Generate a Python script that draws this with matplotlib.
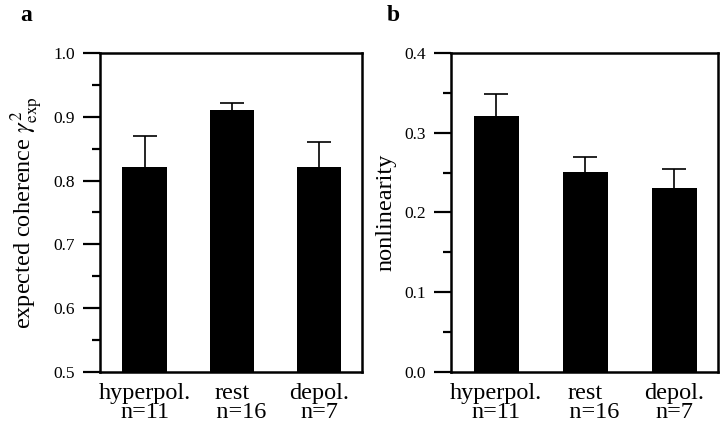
import matplotlib
matplotlib.use("Agg")
import matplotlib.pyplot as plt
from matplotlib.ticker import MultipleLocator

plt.rcParams['font.family'] = ['Liberation Serif', 'DejaVu Serif']
plt.rcParams['mathtext.fontset'] = 'stix'

# data
conditions = ["hyperpol.", "rest", "depol."]
n_cells = [11, 16, 7]
coherence = [0.821, 0.911, 0.821]
coherence_err = [0.049, 0.010, 0.040]
nonlinearity = [0.321, 0.251, 0.231]
nonlinearity_err = [0.028, 0.018, 0.023]

# second line of "rest" sits a little to the right in the original
n_pad = ["", "   ", ""]
labels = [f"{c}\n{p}n={n}" for c, p, n in zip(conditions, n_pad, n_cells)]

fig = plt.figure(figsize=(7.2, 4.33), dpi=100)
ax_a = fig.add_axes([0.1389, 0.1409, 0.3639, 0.7367])
ax_b = fig.add_axes([0.6264, 0.1409, 0.3708, 0.7367])


def draw(ax, vals, errs, ylim, major, ylabel):
    x = list(range(len(vals)))
    ax.bar(x, vals, width=0.51, color='black', zorder=2)
    _, caps, _ = ax.errorbar(x, vals, yerr=[[0] * len(errs), errs], fmt='none',
                             ecolor='black', elinewidth=1.2, capsize=8.5,
                             capthick=1.2, zorder=1)
    caps[0].set_visible(False)  # only the upper half is shown
    ax.set_xlim(-0.51, 2.49)
    ax.set_ylim(*ylim)
    ax.yaxis.set_major_locator(MultipleLocator(major))
    ax.yaxis.set_minor_locator(MultipleLocator(major / 2))
    ax.yaxis.set_major_formatter(plt.FormatStrFormatter('%.1f'))
    ax.tick_params(axis='y', which='major', direction='out', length=12, width=1.6,
                   labelsize=12.5, pad=6)
    ax.tick_params(axis='y', which='minor', direction='out', length=6, width=1.6)
    ax.tick_params(axis='x', length=0, labelsize=17.5, pad=8)
    ax.set_xticks(x)
    ax.set_xticklabels(labels, linespacing=0.85, multialignment='center')
    for s in ax.spines.values():
        s.set_linewidth(1.8)
    ax.set_ylabel(ylabel, fontsize=17.5, labelpad=6)


draw(ax_a, coherence, coherence_err, (0.5, 1.0), 0.1,
     r'expected coherence $\gamma^2_{\mathrm{exp}}$')
draw(ax_b, nonlinearity, nonlinearity_err, (0.0, 0.4), 0.1, 'nonlinearity')

fig.text(0.036, 0.965, 'a', fontsize=17, fontweight='bold', va='center', ha='center')
fig.text(0.546, 0.965, 'b', fontsize=17, fontweight='bold', va='center', ha='center')

fig.savefig('out.png', dpi=100)
